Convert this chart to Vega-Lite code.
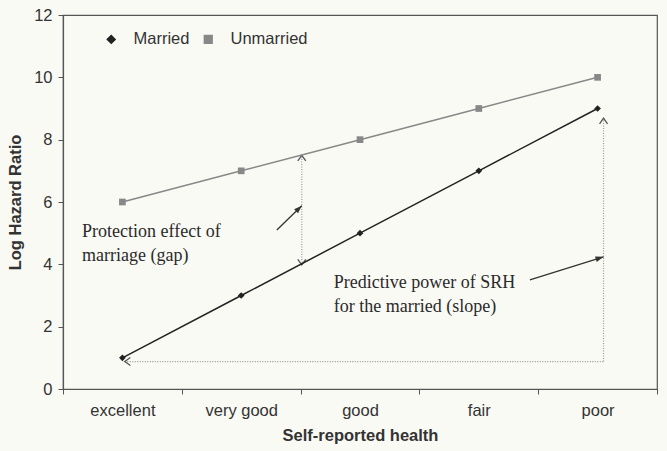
{
  "$schema": "https://vega.github.io/schema/vega-lite/v6.json",
  "width": 594,
  "height": 374,
  "autosize": {"type": "none"},
  "padding": {"left": 63, "top": 15, "right": 10, "bottom": 62},
  "background": "#fafaf5",
  "config": {
    "view": {"stroke": "#555", "strokeWidth": 1.2},
    "font": "Liberation Sans",
    "legend": {
      "orient": "none", "legendX": 40, "legendY": 16, "direction": "horizontal", "title": null,
      "labelFont": "Liberation Sans", "labelFontSize": 16.5, "labelColor": "#333",
      "symbolSize": 60, "columnPadding": 10, "labelOffset": 14, "padding": 0
    }
  },
  "encoding": {
    "x": {
      "field": "x", "type": "quantitative",
      "scale": {"domain": [0.5, 5.5], "nice": false, "zero": false},
      "axis": {
        "values": [0.5, 1.5, 2.5, 3.5, 4.5, 5.5],
        "labelExpr": "datum.value < 5 ? ['excellent','very good','good','fair','poor'][floor(datum.value)] : ''",
        "labelOffset": 59.4, "labelFlush": false, "labelOverlap": false, "labelBound": false,
        "title": "Self-reported health", "grid": false, "tickSize": 5,
        "domainColor": "#555", "tickColor": "#555", "domainWidth": 1.2,
        "labelFont": "Liberation Sans", "labelFontSize": 16.5, "labelColor": "#333", "labelPadding": 8,
        "titleFont": "Liberation Sans", "titleFontSize": 16.5, "titleFontWeight": "bold", "titleColor": "#333", "titlePadding": 9
      }
    },
    "y": {
      "field": "y", "type": "quantitative",
      "scale": {"domain": [0, 12], "nice": false, "zero": true},
      "axis": {
        "values": [0, 2, 4, 6, 8, 10, 12], "title": "Log Hazard Ratio", "grid": false, "tickSize": 5,
        "domainColor": "#555", "tickColor": "#555", "domainWidth": 1.2,
        "labelFont": "Liberation Sans", "labelFontSize": 16.5, "labelColor": "#333", "labelPadding": 6,
        "titleFont": "Liberation Sans", "titleFontSize": 16.5, "titleFontWeight": "bold", "titleColor": "#333", "titlePadding": 10
      }
    }
  },
  "layer": [
    {
      "data": {"name": "segs", "values": [
        {"x": 2.51, "y": 3.98, "x2": 2.51, "y2": 7.5},
        {"x": 5.05, "y": 0.88, "x2": 5.05, "y2": 8.69},
        {"x": 1.02, "y": 0.88, "x2": 5.05, "y2": 0.88}
      ]},
      "mark": {"type": "rule", "color": "#999", "strokeWidth": 1.2, "strokeDash": [1, 1.5]},
      "encoding": {"x2": {"field": "x2"}, "y2": {"field": "y2"}}
    },
    {
      "data": {"values": [
        {"x": 2.30, "y": 5.10, "x2": 2.51, "y2": 5.88},
        {"x": 4.43, "y": 3.50, "x2": 5.05, "y2": 4.24}
      ]},
      "mark": {"type": "rule", "color": "#333", "strokeWidth": 1.3},
      "encoding": {"x2": {"field": "x2"}, "y2": {"field": "y2"}}
    },
    {
      "data": {"values": [
        {"x": 2.51, "y": 7.5, "angle": 0},
        {"x": 2.51, "y": 3.98, "angle": 180},
        {"x": 5.05, "y": 8.69, "angle": 0},
        {"x": 1.02, "y": 0.88, "angle": 270}
      ]},
      "mark": {"type": "point", "filled": false, "shape": "M-1,1.4L0,0L1,1.4", "size": 64, "stroke": "#555", "strokeWidth": 1.3, "opacity": 1},
      "encoding": {"angle": {"field": "angle", "type": "quantitative", "scale": null}}
    },
    {
      "data": {"values": [
        {"x": 2.51, "y": 5.88, "angle": 45.7},
        {"x": 5.05, "y": 4.24, "angle": 72.6}
      ]},
      "mark": {"type": "point", "filled": true, "shape": "M0,0L-0.7,2L0.7,2Z", "size": 64, "color": "#333", "opacity": 1},
      "encoding": {"angle": {"field": "angle", "type": "quantitative", "scale": null}}
    },
    {
      "data": {"name": "series", "values": [
        {"x": 1, "y": 1, "series": "Married"},
        {"x": 2, "y": 3, "series": "Married"},
        {"x": 3, "y": 5, "series": "Married"},
        {"x": 4, "y": 7, "series": "Married"},
        {"x": 5, "y": 9, "series": "Married"},
        {"x": 1, "y": 6, "series": "Unmarried"},
        {"x": 2, "y": 7, "series": "Unmarried"},
        {"x": 3, "y": 8, "series": "Unmarried"},
        {"x": 4, "y": 9, "series": "Unmarried"},
        {"x": 5, "y": 10, "series": "Unmarried"}
      ]},
      "layer": [
        {
          "mark": {"type": "line", "strokeWidth": 1.5},
          "encoding": {
            "color": {"field": "series", "type": "nominal", "scale": {"domain": ["Married", "Unmarried"], "range": ["#222222", "#888888"]}}
          }
        },
        {
          "mark": {"type": "point", "filled": true, "size": 45, "opacity": 1},
          "encoding": {
            "color": {"field": "series", "type": "nominal", "scale": {"domain": ["Married", "Unmarried"], "range": ["#222222", "#888888"]}},
            "shape": {
              "field": "series", "type": "nominal",
              "scale": {"domain": ["Married", "Unmarried"], "range": ["diamond", "square"]}
            }
          }
        }
      ]
    },
    {
      "data": {"values": [
        {"x": 0.66, "y": 5.04, "text": "Protection effect of"},
        {"x": 0.66, "y": 4.27, "text": "marriage (gap)"},
        {"x": 2.78, "y": 3.40, "text": "Predictive power of SRH"},
        {"x": 2.78, "y": 2.64, "text": "for the married (slope)"}
      ]},
      "mark": {"type": "text", "align": "left", "baseline": "middle", "font": "Liberation Serif", "fontSize": 18, "color": "#2a2a2a"},
      "encoding": {"text": {"field": "text"}}
    }
  ]
}
